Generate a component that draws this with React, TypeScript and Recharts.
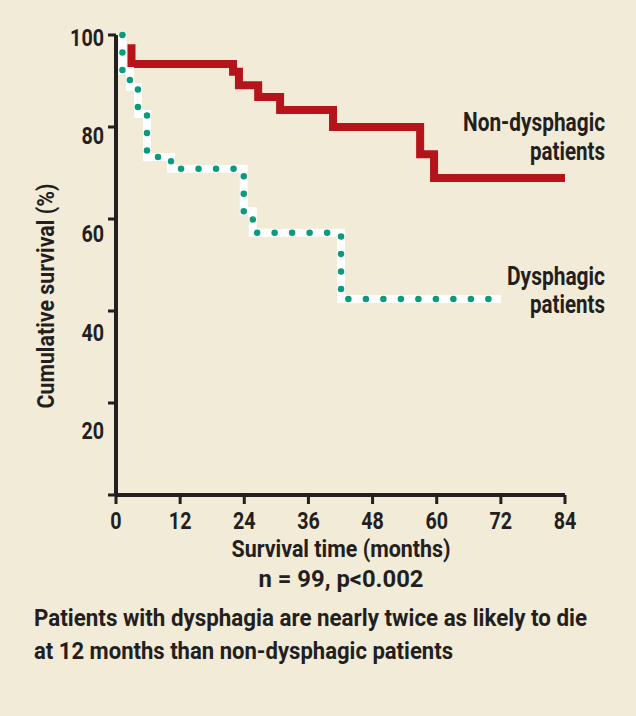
import { LineChart, Line, XAxis, YAxis } from "recharts";

// Kaplan-Meier steps: month of each drop and the survival (%) after it
const nonDysMonths = [2.9, 2.9, 21.9, 23.0, 26.6, 30.7, 40.6, 56.9, 59.5, 84];
const nonDysSurvival = [98, 93.7, 92.0, 89.1, 86.5, 83.7, 80.0, 74.1, 68.9, 68.9];

const dysMonths = [1.2, 1.2, 2.6, 4.1, 5.8, 10.3, 23.9, 25.6, 42.1, 72];
const dysSurvival = [100, 92.2, 88.7, 82.8, 73.5, 70.9, 61.7, 57.0, 42.6, 42.6];

const xTicks = [0, 12, 24, 36, 48, 60, 72, 84];
const yTicks = [0, 20, 40, 60, 80, 100];

const FONT = "Roboto, 'Liberation Sans', sans-serif";
const INK = "#231f20";
const BG = "#f2ebd8";
const RED = "#b5141b";
const TEAL = "#0a9a7e";

const nonDysData = nonDysMonths.map((t, i) => ({ t, v: nonDysSurvival[i] }));
const dysData = dysMonths.map((t, i) => ({ t, v: dysSurvival[i] }));

// condensed look: squeeze Roboto bold to the widths measured on the reference
const digitW = 11.3;

function XTick(props: any) {
  const { x, y, payload } = props;
  const s = String(payload.value);
  return (
    <text x={x} y={y + 23} textAnchor="middle" fontFamily={FONT} fontWeight="bold" fontSize={24} fill={INK}
      textLength={s.length * digitW} lengthAdjust="spacingAndGlyphs">
      {s}
    </text>
  );
}

function YTick(props: any) {
  const { x, y, payload } = props;
  if (payload.value === 0) return null;
  const s = String(payload.value);
  // labels in the original sit a little lower than their tick marks, more so further down
  const dy = 3 + (100 - payload.value) * 0.31;
  return (
    <text x={x} y={y + dy + 8} textAnchor="end" fontFamily={FONT} fontWeight="bold" fontSize={24} fill={INK}
      textLength={s.length * digitW} lengthAdjust="spacingAndGlyphs">
      {s}
    </text>
  );
}

function T(p: { x: number; y: number; w: number; size: number; anchor?: string; rotate?: boolean; children: string }) {
  return (
    <text
      x={p.x}
      y={p.y}
      fontSize={p.size}
      textAnchor={p.anchor || "start"}
      textLength={p.w}
      lengthAdjust="spacingAndGlyphs"
      transform={p.rotate ? `rotate(-90 ${p.x} ${p.y})` : undefined}
    >
      {p.children}
    </text>
  );
}

export default function App() {
  return (
    <div style={{ position: "absolute", left: 0, top: 0, width: 636, height: 716, background: BG, overflow: "hidden" }}>
      <LineChart width={636} height={716} margin={{ top: 35, right: 71, left: 56, bottom: 181 }}>
        <XAxis
          type="number"
          dataKey="t"
          domain={[0, 84]}
          ticks={xTicks}
          height={40}
          tickSize={9}
          tickMargin={2}
          axisLine={{ stroke: INK, strokeWidth: 4 }}
          tickLine={{ stroke: INK, strokeWidth: 3 }}
          tick={<XTick />}
        />
        <YAxis
          type="number"
          dataKey="v"
          domain={[0, 100]}
          ticks={yTicks}
          width={60}
          tickSize={8}
          tickMargin={4}
          axisLine={{ stroke: INK, strokeWidth: 4 }}
          tickLine={{ stroke: INK, strokeWidth: 3 }}
          tick={<YTick />}
        />
        <Line
          data={nonDysData}
          dataKey="v"
          type="stepAfter"
          stroke={RED}
          strokeWidth={8}
          dot={false}
          isAnimationActive={false}
        />
        <Line
          data={dysData}
          dataKey="v"
          type="stepAfter"
          stroke="#ffffff"
          strokeWidth={8}
          dot={false}
          isAnimationActive={false}
        />
        <Line
          data={dysData}
          dataKey="v"
          type="stepAfter"
          stroke={TEAL}
          strokeWidth={6.5}
          strokeDasharray="0 17.5"
          strokeLinecap="round"
          dot={false}
          isAnimationActive={false}
        />
      </LineChart>
      <svg width={636} height={716} style={{ position: "absolute", left: 0, top: 0, pointerEvents: "none" }}>
        <g fontFamily={FONT} fontWeight="bold" fill={INK}>
          <T x={605} y={131} w={142} size={25} anchor="end">Non-dysphagic</T>
          <T x={605} y={160} w={75} size={25} anchor="end">patients</T>
          <T x={605} y={285} w={98} size={25} anchor="end">Dysphagic</T>
          <T x={605} y={313} w={75} size={25} anchor="end">patients</T>
          <T x={341} y={557} w={219} size={23} anchor="middle">Survival time (months)</T>
          <T x={341} y={587} w={165} size={23} anchor="middle">n = 99, p&lt;0.002</T>
          <T x={54} y={296} w={225} size={23} anchor="middle" rotate>Cumulative survival (%)</T>
          <T x={34} y={626} w={553} size={23}>Patients with dysphagia are nearly twice as likely to die</T>
          <T x={34} y={659} w={419} size={23}>at 12 months than non-dysphagic patients</T>
        </g>
      </svg>
    </div>
  );
}
